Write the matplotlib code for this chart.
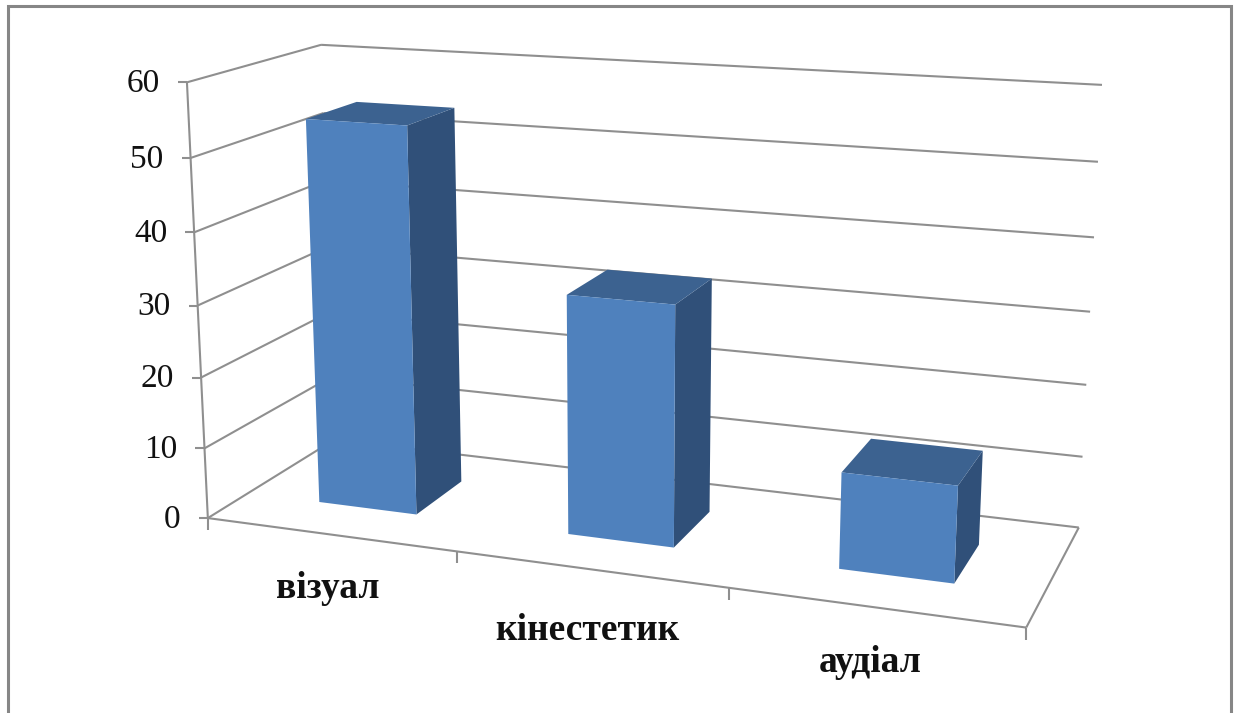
import numpy as np
import matplotlib
matplotlib.use("Agg")
import matplotlib.pyplot as plt

categories = ["візуал", "кінестетик", "аудіал"]
values = [54, 33, 13]
y_ticks = [0, 10, 20, 30, 40, 50, 60]

plt.rcParams['font.family'] = ['Liberation Serif', 'DejaVu Serif']
fig = plt.figure(figsize=(12.37, 7.13), dpi=100)
ax = fig.add_axes([0, 0, 1, 1])
ax.set_xlim(0, 1237); ax.set_ylim(713, 0); ax.axis('off')

# projective camera calibrated on the box corners: (cat, value, depth) -> pixel
cal = [((0,0,0),(208,518)),((3,0,0),(1026,628)),((3,0,1),(1079,527)),((0,0,1),(334,440)),
       ((0,60,0),(187,82)),((0,60,1),(321,45)),((3,60,1),(1102,85))]
A=[];b=[]
for (X,Y,Z),(u,v) in cal:
    A.append([X,Y,Z,1,0,0,0,0,-u*X,-u*Y,-u*Z]);b.append(u)
    A.append([0,0,0,0,X,Y,Z,1,-v*X,-v*Y,-v*Z]);b.append(v)
p=np.linalg.lstsq(np.array(A,float),np.array(b,float),rcond=None)[0]
P=np.append(p,1).reshape(3,4)
def proj(x,v,d):
    h=P@np.array([x,v,d,1.0]); return h[0]/h[2],h[1]/h[2]

GRID='#8f8f8f'
def line(a,b,lw=1.5):
    ax.plot([a[0],b[0]],[a[1],b[1]],color=GRID,lw=lw,solid_capstyle='butt',zorder=1)

for v in y_ticks:
    line(proj(0,v,0),proj(0,v,1)); line(proj(0,v,1),proj(3,v,1))
    x0,y0=proj(0,v,0)
    line((x0-9,y0),(x0,y0))
    ax.text(x0-27,y0+1.5,str(v),ha='right',va='center',fontsize=24,color='#111111')
line(proj(0,0,0),proj(0,60,0))
line(proj(0,0,0),proj(3,0,0)); line(proj(3,0,0),proj(3,0,1))
for i in range(4):
    x0,y0=proj(i,0,0); line((x0,y0),(x0,y0+12))

FRONT='#4f81bd'; SIDE='#305079'; TOP='#3c6290'
w=0.2; d0=0.3; d1=0.7
for i,val in enumerate(values):
    c=i+0.5; l=c-w; r=c+w
    ax.fill(*zip(proj(r,0,d0),proj(r,0,d1),proj(r,val,d1),proj(r,val,d0)),color=SIDE,lw=0,zorder=2)
    ax.fill(*zip(proj(l,val,d0),proj(r,val,d0),proj(r,val,d1),proj(l,val,d1)),color=TOP,lw=0,zorder=2)
    ax.fill(*zip(proj(l,0,d0),proj(r,0,d0),proj(r,val,d0),proj(l,val,d0)),color=FRONT,lw=0,zorder=3)

for cat,(x,y) in zip(categories,[(328,589),(587,630),(870,662)]):
    ax.text(x,y,cat,ha='center',va='center',fontsize=27,fontweight='bold',color='#111111')

ax.plot([8,8,1231,1231],[713,5.5,5.5,713],color='#868686',lw=2.2,solid_joinstyle='miter')
fig.savefig('out.png',dpi=100)
